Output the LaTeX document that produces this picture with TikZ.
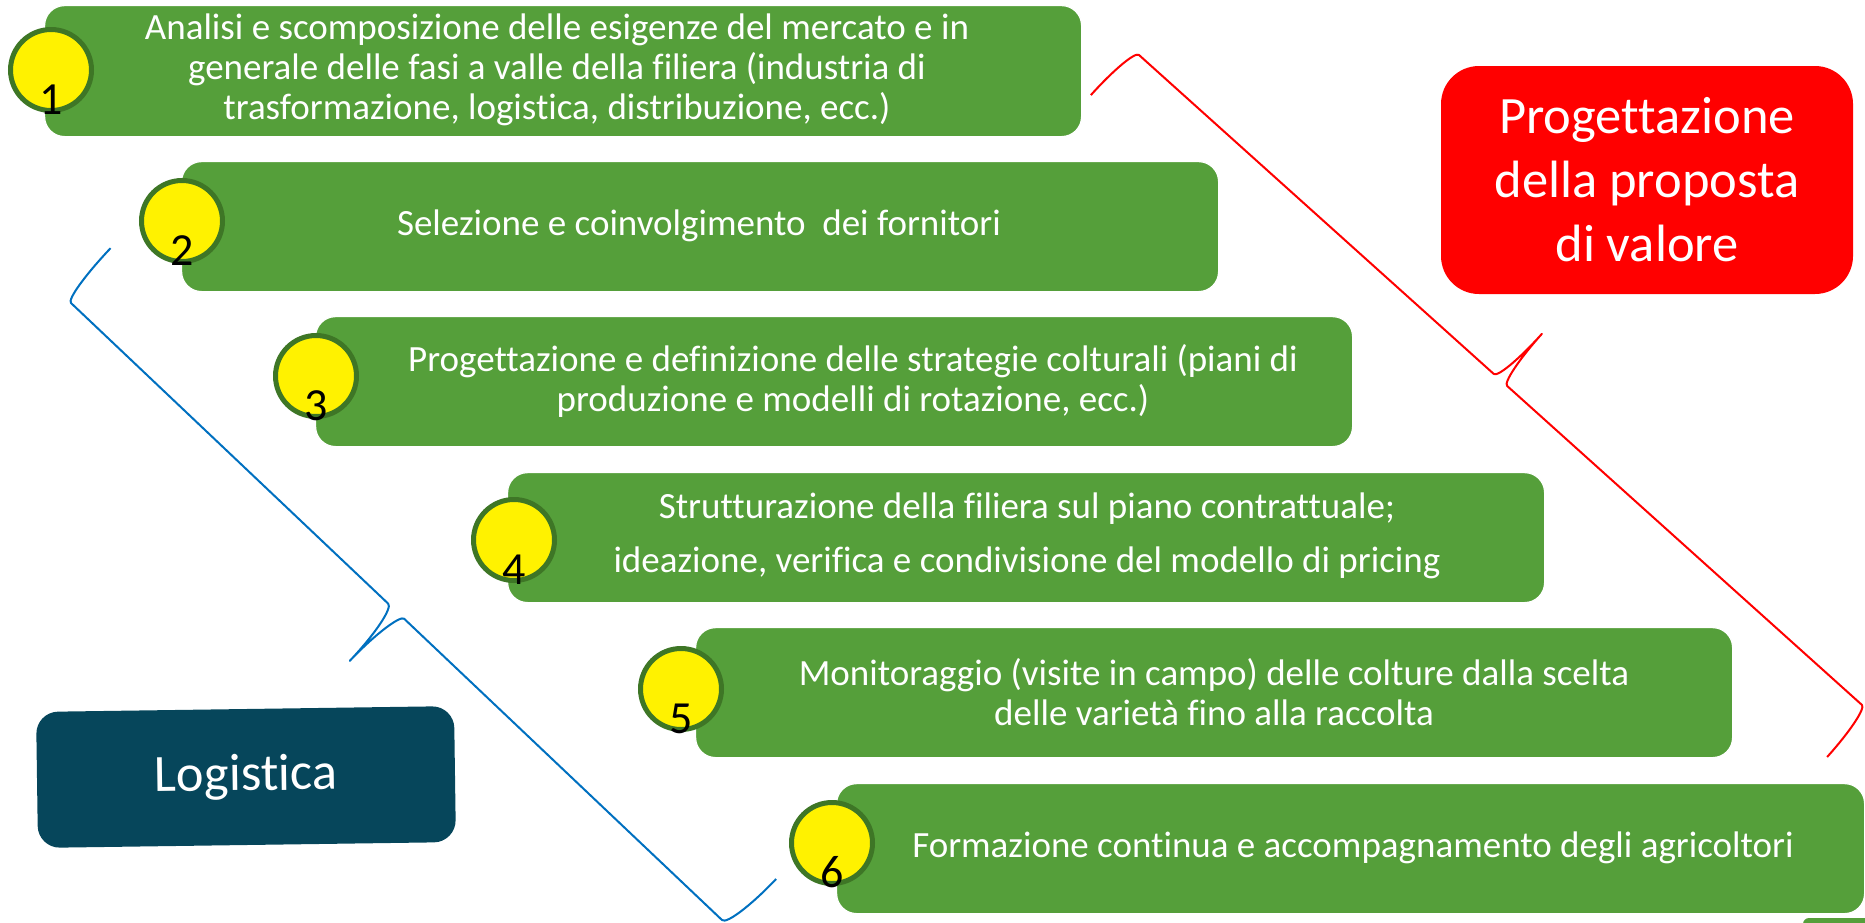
\documentclass[tikz,border=0pt]{standalone}
\usepackage{fontspec}
\setmainfont[RawFeature={-liga;-clig;-calt;-dlig}]{Carlito}
\definecolor{boxgreen}{RGB}{85,159,58}
\definecolor{ringgreen}{RGB}{62,118,38}
\definecolor{logteal}{RGB}{6,70,91}
\definecolor{braceblue}{RGB}{0,112,192}
\begin{document}
\begin{tikzpicture}[x=1pt,y=-1pt,
  stepbox/.style={draw=white, line width=1.2pt, fill=boxgreen, rounded corners=20pt,
    minimum width=1037pt, minimum height=130pt, anchor=north west, inner sep=0pt},
  steptext/.style={text=white, font=\fontsize{37}{40}\selectfont, align=center, inner sep=0pt},
  ring/.style={circle, draw=ringgreen, line width=5pt, fill=yellow, minimum size=81pt, inner sep=0pt},
  numtext/.style={anchor=base, text=black, font=\fontsize{46}{50}\selectfont, inner sep=0pt},
  bigbox/.style={text=white, font=\fontsize{52.5}{64}\selectfont, align=center, inner sep=0pt},
  bracepath/.style={line width=2pt, line join=round}
]
\useasboundingbox (0,0) rectangle (1865,922);
\clip (0,0) rectangle (1865,922);

% braces
\begin{scope}[shift={(1139,55)}, x={(0.7437pt,-0.6686pt)}, y={(0.6686pt,0.7437pt)}]
  \draw[bracepath, red] (-9,-62) .. controls (-9,-28) and (-5,0) .. (0,0)
    -- (477,0) .. controls (482,0) and (486,28) .. (486,62)
    .. controls (486,28) and (490,0) .. (495,0)
    -- (972,0) .. controls (977,0) and (981,-28) .. (981,-62);
\end{scope}
\begin{scope}[shift={(71,303)}, x={(0.7258pt,-0.6879pt)}, y={(-0.6879pt,-0.7258pt)}]
  \draw[bracepath, braceblue] (-9,-67) .. controls (-9,-30) and (-5,0) .. (0,0)
    -- (437,0) .. controls (443,0) and (448.5,30) .. (448.5,68)
    .. controls (448.5,30) and (454,0) .. (459,0)
    -- (897,0) .. controls (903,0) and (908,-30) .. (908,-67);
\end{scope}

% fragment of a box below the picture
\fill[boxgreen, rounded corners=6pt] (1803,918) rectangle (1880,940);

% green step boxes
\node[stepbox, minimum height=131pt] (b1) at (44,5) {};
\node[stepbox] (b2) at (181,161) {};
\node[stepbox] (b3) at (315,316) {};
\node[stepbox] (b4) at (507,472) {};
\node[stepbox] (b5) at (695,627) {};
\node[stepbox, minimum width=1028pt] (b6) at (836,783) {};

\node[steptext] (t1) at (557,70) {Analisi e scomposizione delle esigenze del mercato e in\\generale delle fasi a valle della filiera (industria di\\trasformazione, logistica, distribuzione, ecc.)};
\node[steptext] (t2) at (699,226) {Selezione e coinvolgimento\ \ dei fornitori};
\node[steptext] (t3) at (853,381) {Progettazione e definizione delle strategie colturali (piani di\\produzione e modelli di rotazione, ecc.)};
\node[steptext] (t4) at (1027,536) {Strutturazione della filiera sul piano contrattuale;\\[14pt]ideazione, verifica e condivisione del modello di pricing};
\node[steptext] (t5) at (1214,692) {Monitoraggio (visite in campo) delle colture dalla scelta\\delle varietà fino alla raccolta};
\node[steptext] (t6) at (1353,848) {Formazione continua e accompagnamento degli agricoltori};

% yellow rings with numbers
\node[ring] (c1) at (51,70) {};
\node[ring] (c2) at (182,221) {};
\node[ring] (c3) at (316,376) {};
\node[ring] (c4) at (514,540) {};
\node[ring] (c5) at (681,689) {};
\node[ring] (c6) at (832,843) {};
\node[numtext] (n1) at (51,114) {1};
\node[numtext] (n2) at (182,265) {2};
\node[numtext] (n3) at (316,420) {3};
\node[numtext] (n4) at (514,584) {4};
\node[numtext] (n5) at (681,733) {5};
\node[numtext] (n6) at (832,887) {6};

% side boxes
\node[bigbox, fill=red, rounded corners=38pt, minimum width=412pt, minimum height=228pt]
  (pv) at (1647,180) {Progettazione\\della proposta\\di valore};
\node[bigbox, fill=logteal, rounded corners=22pt, minimum width=418pt, minimum height=136pt, rotate=0.8]
  (lg) at (246,777) {Logistica};
\end{tikzpicture}
\end{document}
